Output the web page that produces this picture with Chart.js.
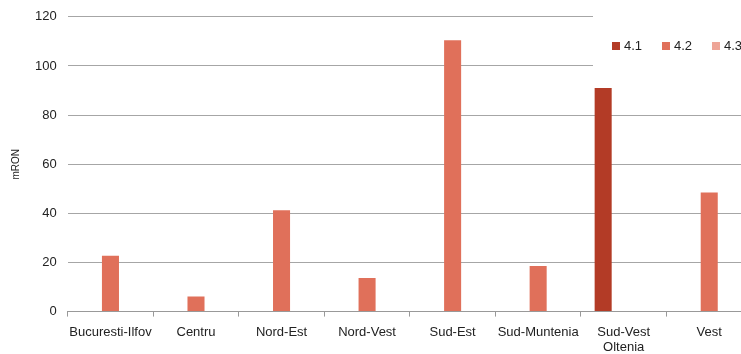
<!DOCTYPE html>
<html>
<head>
<meta charset="utf-8">
<script src="https://cdn.jsdelivr.net/npm/chart.js@4/dist/chart.umd.min.js"></script>
<style>
html,body{margin:0;padding:0;background:#fff;overflow:hidden;}
#wrap{position:relative;width:760px;height:366px;margin-top:-2px;}
</style>
</head>
<body>
<div id="wrap"><canvas id="c" width="760" height="366"></canvas></div>
<script>
const categories = ["Bucuresti-Ilfov","Centru","Nord-Est","Nord-Vest","Sud-Est","Sud-Muntenia",["Sud-Vest","Oltenia"],"Vest"];
const seriesNames = ["4.1","4.2","4.3"];
const values41 = [null,null,null,null,null,null,91,null];
const values42 = [22.7,6.1,41.2,13.7,110.5,18.6,null,48.5];
const values43 = [null,null,null,null,null,null,null,null];
const yTicks = [0,20,40,60,80,100,120];
const colors = ["#B33B26","#E0705A","#EEA597"];

const FONT = "'Liberation Sans', Arial, sans-serif";

const legendPlugin = {
  id: 'customLegend',
  afterDraw(chart) {
    const ctx = chart.ctx;
    ctx.save();
    ctx.fillStyle = '#fff';
    ctx.fillRect(593, 8, 170, 64);
    ctx.font = "13px " + FONT;
    ctx.textBaseline = 'middle';
    chart.data.datasets.forEach((ds, i) => {
      const x = 612 + i * 50;
      ctx.fillStyle = ds.backgroundColor;
      ctx.fillRect(x, 44, 8, 8);
      ctx.fillStyle = '#222';
      ctx.fillText(ds.label, x + 12, 48.5);
    });
    ctx.restore();
  }
};

new Chart(document.getElementById('c'), {
  type: 'bar',
  data: {
    labels: categories,
    datasets: [
      {label: seriesNames[0], data: values41, backgroundColor: colors[0]},
      {label: seriesNames[1], data: values42, backgroundColor: colors[1]},
      {label: seriesNames[2], data: values43, backgroundColor: colors[2]}
    ]
  },
  options: {
    responsive: false,
    animation: false,
    categoryPercentage: 0.72,
    barPercentage: 0.83,
    layout: {padding: {top: 2, right: 8, bottom: 1, left: 10}},
    plugins: {legend: {display: false}, tooltip: {enabled: false}},
    scales: {
      x: {
        grid: {offset: true, drawOnChartArea: false, drawTicks: true, tickLength: 5, color: '#999'},
        border: {color: '#999'},
        ticks: {autoSkip: false, maxRotation: 0, padding: 8, color: '#222', font: {family: FONT, size: 13, lineHeight: 1.17}}
      },
      y: {
        min: 0, max: 120,
        afterBuildTicks(axis) { axis.ticks = yTicks.map(v => ({value: v})); },
        grid: {color: '#A6A6A6', drawTicks: false},
        border: {display: false},
        ticks: {padding: 11, color: '#222', font: {family: FONT, size: 13}},
        title: {display: true, text: 'mRON', color: '#222', font: {family: FONT, size: 10}, padding: {top: 0, bottom: 2}}
      }
    }
  },
  plugins: [legendPlugin]
});
</script>
</body>
</html>
